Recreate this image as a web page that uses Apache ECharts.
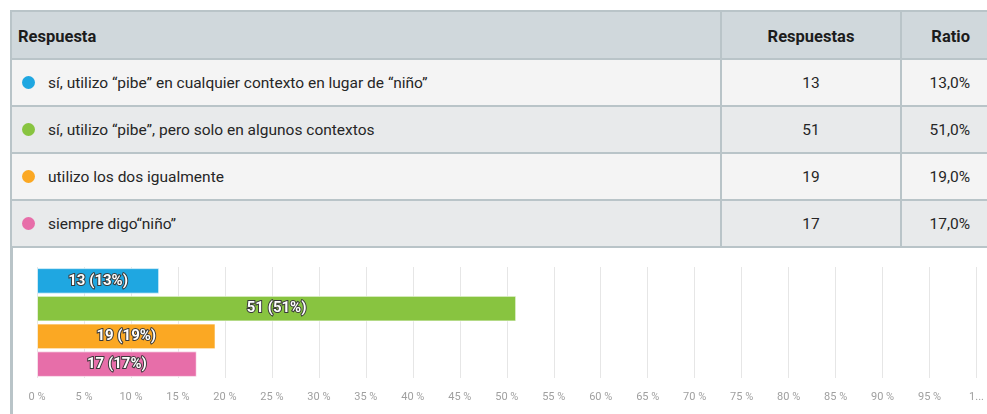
<!DOCTYPE html>
<html>
<head>
<meta charset="utf-8">
<script src="https://cdn.jsdelivr.net/npm/echarts@6/dist/echarts.min.js"></script>
<style>
  html, body { margin: 0; padding: 0; background: #fff; width: 987px; height: 414px; overflow: hidden; }
  body { font-family: Roboto, "DejaVu Sans Condensed", sans-serif; color: #262626; position: relative; }
  #tbl { position: absolute; left: 10px; top: 10px; border-collapse: collapse; table-layout: fixed; width: 990px; }
  #tbl td, #tbl th { border: 2px solid #b9c4c8; font-size: 15.5px; padding: 0; }
  #tbl th { background: #d0d8dc; height: 44px; font-weight: bold; color: #1c1c1c; font-size: 16.5px; padding-top: 2px; }
  #tbl td { height: 45px; }
  #tbl tr.odd td { background: #f4f4f4; }
  #tbl tr.even td { background: #e8eaeb; }
  .c1 { text-align: left; padding-left: 6px !important; }
  .c2 { text-align: center; }
  .c3 { text-align: right; padding-right: 30px !important; }
  .dot { display: inline-block; width: 13px; height: 13px; border-radius: 50%; margin-left: 4px; margin-right: 13px; vertical-align: -1px; }
  #leftline { position: absolute; left: 10px; top: 246px; width: 3px; height: 168px; background: #b9c4c8; }
  #chart { position: absolute; left: 0; top: 246px; width: 987px; height: 168px; }
</style>
</head>
<body>
<table id="tbl">
  <colgroup><col style="width:710px"><col style="width:180px"><col style="width:100px"></colgroup>
  <thead><tr><th class="c1">Respuesta</th><th class="c2">Respuestas</th><th class="c3">Ratio</th></tr></thead>
  <tbody id="tb"></tbody>
</table>
<div id="leftline"></div>
<div id="chart"></div>
<script>
const categories = [
  'sí, utilizo “pibe” en cualquier contexto en lugar de “niño”',
  'sí, utilizo “pibe”, pero solo en algunos contextos',
  'utilizo los dos igualmente',
  'siempre digo“niño”'
];
const counts = [13, 51, 19, 17];
const ratios = [13.0, 51.0, 19.0, 17.0];
const colors = ['#1fa7e1', '#88c440', '#fba823', '#e76ea9'];
const xTicks = [0, 5, 10, 15, 20, 25, 30, 35, 40, 45, 50, 55, 60, 65, 70, 75, 80, 85, 90, 95, 100];

// table
const tb = document.getElementById('tb');
categories.forEach((c, i) => {
  const tr = document.createElement('tr');
  tr.className = i % 2 === 0 ? 'odd' : 'even';
  tr.innerHTML = '<td class="c1"><span class="dot" style="background:' + colors[i] + '"></span>' + c + '</td>' +
    '<td class="c2">' + counts[i] + '</td>' +
    '<td class="c3">' + ratios[i].toFixed(1).replace('.', ',') + '%</td>';
  tb.appendChild(tr);
});

// chart
const chart = echarts.init(document.getElementById('chart'), null, { renderer: 'canvas' });
chart.setOption({
  animation: false,
  grid: { left: 37, right: 10, top: 21, bottom: 36 },
  xAxis: {
    type: 'value', min: xTicks[0], max: xTicks[xTicks.length - 1], interval: xTicks[1] - xTicks[0],
    axisLine: { show: false }, axisTick: { show: false },
    splitLine: { show: true, lineStyle: { color: '#e6e6e6', width: 1 } },
    axisLabel: {
      color: '#a0a0a0', fontSize: 11, margin: 14,
      fontFamily: 'Roboto, sans-serif',
      formatter: v => v === 100 ? '1...' : v + ' %'
    }
  },
  yAxis: {
    type: 'category', inverse: true, data: categories,
    axisLine: { show: false }, axisTick: { show: false }, axisLabel: { show: false }
  },
  series: [{
    type: 'bar',
    barCategoryGap: '8%',
    data: counts.map((v, i) => ({ value: ratios[i], count: v, itemStyle: { color: colors[i] } })),
    itemStyle: { borderColor: 'rgba(255,255,255,0.6)', borderWidth: 1 },
    label: {
      show: true, position: 'inside',
      formatter: p => p.data.count + ' (' + Math.round(p.data.value) + '%)',
      color: '#fff', fontWeight: 'bold', fontSize: 15,
      fontFamily: 'Roboto, sans-serif',
      textBorderColor: '#3a3a3a', textBorderWidth: 2
    }
  }]
});
</script>
</body>
</html>
